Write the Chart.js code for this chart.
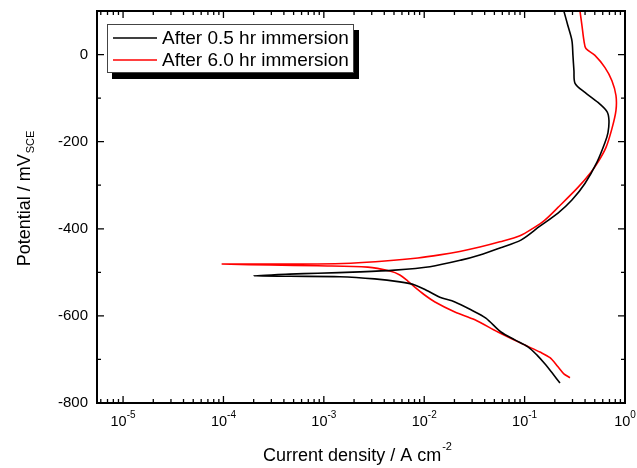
<!DOCTYPE html>
<html>
<head>
<meta charset="utf-8">
<script src="https://cdn.jsdelivr.net/npm/chart.js@4.4.1/dist/chart.umd.min.js"></script>
<style>
  html, body { margin: 0; padding: 0; background: #fff; overflow: hidden; }
  #wrap { width: 637px; height: 468px; }
</style>
</head>
<body>
<div id="wrap"><canvas id="myChart" width="637" height="468"></canvas></div>
<script>
// Polarization curves (current A/cm2, potential mV)
const series_names = ['After 0.5 hr immersion', 'After 6.0 hr immersion'];
const series_colors = ['#000000', '#ff0000'];

const current_05 = [0.246, 0.270, 0.296, 0.303, 0.310, 0.318, 0.399, 0.538, 0.662, 0.692,
  0.677, 0.632, 0.526, 0.399, 0.296, 0.215, 0.142, 0.0918, 0.0567, 0.0358,
  0.0232, 0.0114, 0.00509, 0.00228, 0.000869, 0.000457, 0.0002,
  0.000457, 0.00144, 0.00321, 0.00572, 0.00805, 0.0109, 0.0143, 0.0202, 0.0292,
  0.0411, 0.0581, 0.080, 0.108, 0.133, 0.159, 0.191, 0.225];
const potential_05 = [100, 66, 32, -2, -37, -66, -87, -110, -131, -151,
  -179, -202, -247, -296, -334, -364, -394, -426, -444, -460,
  -472, -487, -495, -499, -502, -504, -508,
  -509, -510, -515, -522, -529, -543, -557, -568, -586,
  -605, -637, -655, -671, -690, -710, -733, -754];

const current_60 = [0.356, 0.373, 0.390, 0.408, 0.502, 0.632, 0.741, 0.813, 0.813, 0.741,
  0.647, 0.538, 0.458, 0.340, 0.215, 0.159, 0.121, 0.0898, 0.0567, 0.0358,
  0.0226, 0.0143, 0.00863, 0.00405, 0.00185, 0.000869, 0.000289, 0.0000959,
  0.000289, 0.000869, 0.00274, 0.00454, 0.00572, 0.00686, 0.00805, 0.0101, 0.0128,
  0.0202, 0.032, 0.0542, 0.1007, 0.142, 0.179, 0.215, 0.246, 0.283];
const potential_60 = [100, 66, 32, 14, -2, -30, -60, -94, -128, -170,
  -213, -247, -270, -305, -351, -380, -399, -416, -430, -442,
  -452, -460, -467, -474, -479, -481, -481, -481,
  -483, -485, -488, -497, -506, -520, -534, -552, -568,
  -591, -609, -637, -667, -683, -696, -717, -733, -742];

const x_major = [1e-5, 1e-4, 1e-3, 1e-2, 1e-1, 1];
const x_exponents = ['-5', '-4', '-3', '-2', '-1', '0'];
const y_major = [-800, -600, -400, -200, 0];
const y_minor = [-700, -500, -300, -100];

function toPoints(xs, ys) {
  return xs.map((x, i) => ({ x: x, y: ys[i] }));
}

const font = '"Liberation Sans", Arial, sans-serif';

const framePlugin = {
  id: 'frame',
  afterDraw(chart) {
    const ctx = chart.ctx;
    const a = chart.chartArea;
    const xs = chart.scales.x;
    const ys = chart.scales.y;
    ctx.save();
    ctx.strokeStyle = '#000';
    ctx.fillStyle = '#000';

    // ticks on all four sides, pointing inward
    ctx.lineWidth = 1.3;
    ctx.beginPath();
    const xMin = xs.min, xMax = xs.max;
    for (let e = -6; e <= 0; e++) {
      for (let k = 1; k <= 9; k++) {
        const v = k * Math.pow(10, e);
        if (v < xMin || v > xMax * 1.0001) continue;
        const px = xs.getPixelForValue(v);
        const len = k === 1 ? 7 : 4;
        ctx.moveTo(px, a.bottom); ctx.lineTo(px, a.bottom - len);
        ctx.moveTo(px, a.top); ctx.lineTo(px, a.top + len);
      }
    }
    y_major.forEach(v => {
      const py = ys.getPixelForValue(v);
      ctx.moveTo(a.left, py); ctx.lineTo(a.left + 7, py);
      ctx.moveTo(a.right, py); ctx.lineTo(a.right - 7, py);
    });
    y_minor.forEach(v => {
      const py = ys.getPixelForValue(v);
      ctx.moveTo(a.left, py); ctx.lineTo(a.left + 4, py);
      ctx.moveTo(a.right, py); ctx.lineTo(a.right - 4, py);
    });
    ctx.stroke();

    // frame
    ctx.lineWidth = 2;
    ctx.strokeRect(a.left, a.top, a.right - a.left, a.bottom - a.top);

    // y tick labels
    ctx.font = '15px ' + font;
    ctx.textAlign = 'right';
    ctx.textBaseline = 'middle';
    y_major.forEach(v => {
      ctx.fillText(String(v), a.left - 9, ys.getPixelForValue(v));
    });

    // x tick labels with superscript exponent
    ctx.textBaseline = 'alphabetic';
    ctx.textAlign = 'left';
    x_major.forEach((v, i) => {
      const px = xs.getPixelForValue(v);
      ctx.font = '14.5px ' + font;
      const wb = ctx.measureText('10').width;
      ctx.font = '10px ' + font;
      const we = ctx.measureText(x_exponents[i]).width;
      const x0 = px - (wb + we) / 2;
      ctx.font = '14.5px ' + font;
      ctx.fillText('10', x0, a.bottom + 23);
      ctx.font = '10px ' + font;
      ctx.fillText(x_exponents[i], x0 + wb, a.bottom + 15);
    });

    // x title
    ctx.font = '18px ' + font;
    const t1 = 'Current density / A cm';
    const w1 = ctx.measureText(t1).width;
    ctx.font = '11px ' + font;
    const w2 = ctx.measureText('-2').width;
    const tx = (a.left + a.right) / 2 - 4 - (w1 + w2) / 2;
    ctx.font = '18px ' + font;
    ctx.fillText(t1, tx, 461);
    ctx.font = '11px ' + font;
    ctx.fillText('-2', tx + w1 + 1, 450);

    // y title (rotated)
    ctx.save();
    ctx.translate(30, 199);
    ctx.rotate(-Math.PI / 2);
    ctx.font = '18px ' + font;
    const y1 = 'Potential / mV';
    const yw1 = ctx.measureText(y1).width;
    ctx.font = '11px ' + font;
    const yw2 = ctx.measureText('SCE').width;
    const ty = -(yw1 + yw2) / 2;
    ctx.font = '18px ' + font;
    ctx.fillText(y1, ty, 0);
    ctx.font = '11px ' + font;
    ctx.fillText('SCE', ty + yw1 + 1, 4);
    ctx.restore();

    // legend with drop shadow
    const lx = 107, ly = 24, lw = 246, lh = 48;
    ctx.fillStyle = '#000';
    ctx.fillRect(lx + 5, ly + 6, lw + 1, lh + 1);
    ctx.fillStyle = '#fff';
    ctx.fillRect(lx, ly, lw, lh);
    ctx.lineWidth = 1;
    ctx.strokeStyle = '#444';
    ctx.strokeRect(lx + 0.5, ly + 0.5, lw, lh);
    ctx.font = '19px ' + font;
    ctx.textBaseline = 'middle';
    series_names.forEach((name, i) => {
      const yy = 38 + i * 22;
      ctx.strokeStyle = series_colors[i];
      ctx.lineWidth = 1.5;
      ctx.beginPath();
      ctx.moveTo(113, yy); ctx.lineTo(157, yy);
      ctx.stroke();
      ctx.fillStyle = '#000';
      ctx.fillText(name, 162, yy + 1);
    });
    ctx.restore();
  }
};

const ctx = document.getElementById('myChart');
const chart = new Chart(ctx, {
  type: 'scatter',
  data: {
    datasets: [
      {
        label: series_names[0],
        data: toPoints(current_05, potential_05),
        borderColor: series_colors[0],
        borderWidth: 1.6,
        showLine: true,
        pointRadius: 0,
        tension: 0.3,
      },
      {
        label: series_names[1],
        data: toPoints(current_60, potential_60),
        borderColor: series_colors[1],
        borderWidth: 1.6,
        showLine: true,
        pointRadius: 0,
        tension: 0.3,
      },
    ],
  },
  options: {
    responsive: false,
    animation: false,
    devicePixelRatio: 1,
    layout: { padding: { left: 97, right: 12, top: 11, bottom: 65 } },
    plugins: { legend: { display: false }, tooltip: { enabled: false } },
    scales: {
      x: {
        type: 'logarithmic',
        min: 5.5e-6,
        max: 1,
        display: false,
      },
      y: {
        type: 'linear',
        min: -800,
        max: 100,
        display: false,
      },
    },
  },
  plugins: [framePlugin],
});
</script>
</body>
</html>
